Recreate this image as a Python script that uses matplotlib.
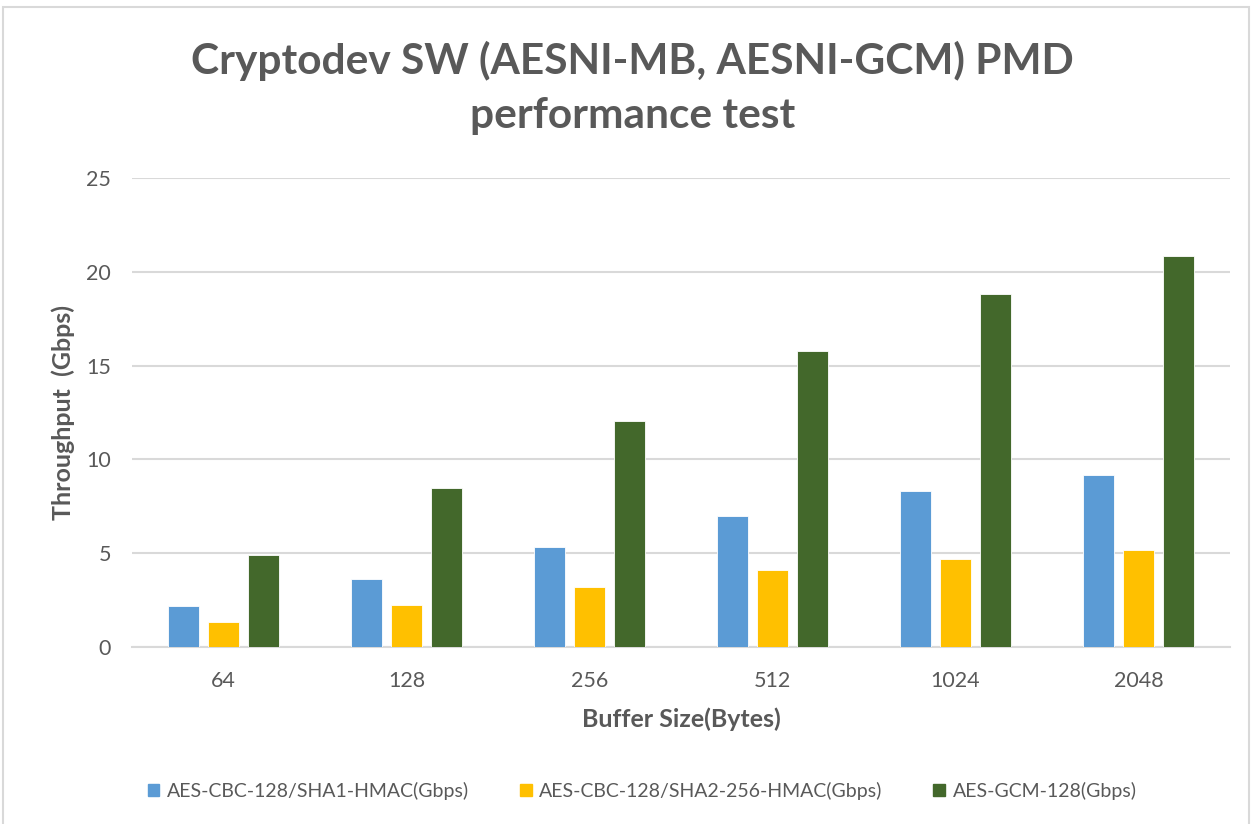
import matplotlib.pyplot as plt
import matplotlib.patches as mpatches
import numpy as np

plt.rcParams['font.family'] = ['Lato', 'DejaVu Sans']

# Data
buffer_sizes = ['64', '128', '256', '512', '1024', '2048']
sha1_hmac = [2.16, 3.60, 5.32, 6.96, 8.33, 9.15]
sha2_hmac = [1.33, 2.23, 3.19, 4.08, 4.70, 5.16]
gcm = [4.91, 8.45, 12.03, 15.78, 18.80, 20.85]
series_names = ['AES-CBC-128/SHA1-HMAC(Gbps)',
                'AES-CBC-128/SHA2-256-HMAC(Gbps)',
                'AES-GCM-128(Gbps)']
colors = ['#5B9BD5', '#FFC000', '#43682B']
grey = '#595959'

fig = plt.figure(figsize=(12.52, 8.24), dpi=100)
ax = fig.add_axes([0.1054, 0.2148, 0.877, 0.5692])

x = np.arange(len(buffer_sizes))
width = 0.172
step = 0.219
for i, (vals, name, c) in enumerate(zip([sha1_hmac, sha2_hmac, gcm], series_names, colors)):
    ax.bar(x + (i - 1) * step, vals, width, color=c, label=name, zorder=3,
           edgecolor='white', linewidth=0.6)

ax.set_xlim(-0.5, len(buffer_sizes) - 0.5)
ax.set_ylim(0, 25)
ax.set_yticks([0, 5, 10, 15, 20, 25])
ax.set_xticks(x)
ax.set_xticklabels(buffer_sizes)
ax.tick_params(length=0, labelsize=15.5, colors=grey, pad=17)
ax.tick_params(axis='y', pad=15)
ax.grid(axis='y', color='#D9D9D9', linewidth=1.5, zorder=0)
for s in ['top', 'right', 'left']:
    ax.spines[s].set_visible(False)
ax.spines['bottom'].set_color('#D9D9D9')
ax.spines['bottom'].set_linewidth(1.5)

ax.set_xlabel('Buffer Size(Bytes)', fontsize=18, fontweight='bold', color=grey, labelpad=12)
ax.set_ylabel('Throughput  (Gbps)', fontsize=18, fontweight='bold', color=grey, labelpad=8)

fig.text(0.505, 0.893, 'Cryptodev SW (AESNI-MB, AESNI-GCM) PMD\nperformance test',
         ha='center', va='center', fontsize=30.5, fontweight='bold', color=grey,
         linespacing=1.5)

handles = [mpatches.Patch(color=c) for c in colors]
fig.legend(handles, series_names, loc='center', bbox_to_anchor=(0.513, 0.04), ncol=3,
           frameon=False, fontsize=14, labelcolor=grey, handlelength=0.6,
           handleheight=0.6, handletextpad=0.4, columnspacing=2.6)

# light chart border
fig.patches.append(mpatches.Rectangle((0.0025, -0.01), 0.995, 1.001, transform=fig.transFigure,
                                      fill=False, edgecolor='#D9D9D9', linewidth=1.5))

fig.savefig('out.png', dpi=100)
